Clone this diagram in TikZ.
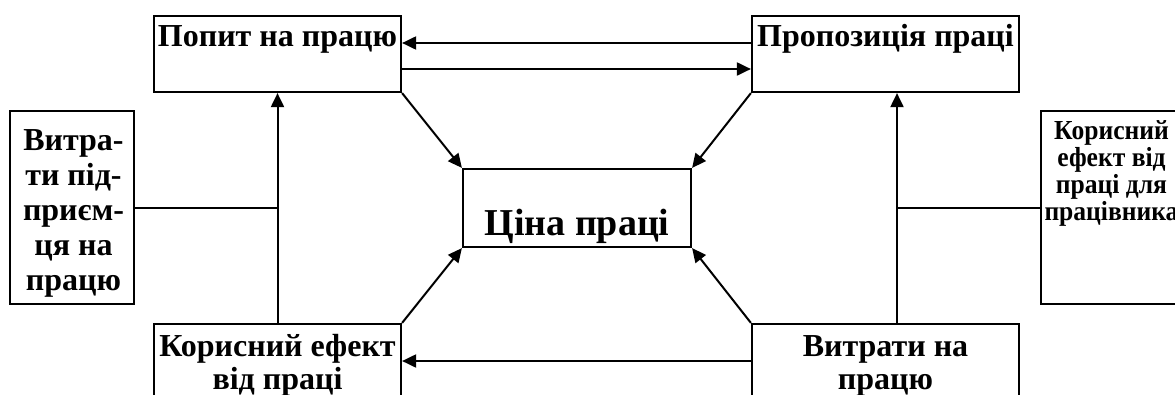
\documentclass[tikz,border=0pt]{standalone}
\usepackage{fontspec}
\setmainfont{Liberation Serif}
\newfontfamily\narrowserif[FakeStretch=0.93]{Liberation Serif}
\usetikzlibrary{arrows.meta}

% centred lines at a fixed pitch; the box baseline is the first line's
\newcommand\stacklines[2]{\vtop{\baselineskip=#1\lineskiplimit=-100pt
  \halign{\hfil##\hfil\cr #2\crcr}}}

\tikzset{
  box/.style={draw, line width=2.2pt, rectangle, inner sep=0pt},
  lbl/.style={inner sep=0pt, anchor=base,
    font=\fontsize{32}{34}\selectfont\bfseries},
  biglbl/.style={inner sep=0pt, anchor=base,
    font=\fontsize{38}{40}\selectfont\bfseries},
  narrowlbl/.style={inner sep=0pt, anchor=base,
    font=\narrowserif\fontsize{27.5}{27}\selectfont\bfseries},
  arr/.style={line width=2pt, -{Triangle[length=14pt,width=13pt]}},
  link/.style={line width=2pt}
}

\begin{document}
\begin{tikzpicture}[x=1pt, y=-1pt]
\useasboundingbox (0,0) rectangle (1175,394);
\clip (0,0) rectangle (1175,394);

% boxes
\node[box, minimum width=247pt, minimum height=76pt] (pd) at (277.5,54) {};
\node[box, minimum width=267pt, minimum height=76pt] (pr) at (885.5,54) {};
\node[box, minimum width=228pt, minimum height=78pt] (ci) at (577,208) {};
\node[box, minimum width=124pt, minimum height=193pt] (vl) at (72,207.5) {};
\node[box, minimum width=141pt, minimum height=193pt] (kr) at (1111.5,207.5) {};
\node[box, minimum width=247pt, minimum height=86pt] (kb) at (277.5,367) {};
\node[box, minimum width=267pt, minimum height=86pt] (vb) at (885.5,367) {};

% texts
\node[lbl] (tpd) at ([yshift=-32pt]pd.north) {Попит на працю};
\node[lbl] (tpr) at ([yshift=-32pt]pr.north) {Пропозиція праці};
\node[biglbl] (tci) at ([yshift=-68pt]ci.north) {Ціна праці};
\node[lbl] (tvl) at ([yshift=-41pt,xshift=1.5pt]vl.north)
  {\stacklines{35pt}{Витра-\cr ти під-\cr приєм-\cr ця на\cr працю}};
\node[narrowlbl] (tkr) at ([yshift=-30pt]kr.north)
  {\stacklines{27pt}{Корисний\cr ефект від\cr праці для\cr працівника}};
\node[lbl] (tkb) at ([yshift=-34pt]kb.north)
  {\stacklines{33pt}{Корисний ефект\cr від праці}};
\node[lbl] (tvb) at ([yshift=-34pt]vb.north)
  {\stacklines{33pt}{Витрати на\cr працю}};

% horizontal links between the top boxes
\draw[arr] ([yshift=11pt]pr.west) -- ([yshift=11pt]pd.east);
\draw[arr] ([yshift=-15pt]pd.east) -- ([yshift=-15pt]pr.west);

% bottom link
\draw[arr] ([yshift=6pt]vb.west) -- ([yshift=6pt]kb.east);

% diagonals into the price box
\draw[arr] (pd.south east) -- (ci.north west);
\draw[arr] (pr.south west) -- (ci.north east);
\draw[arr] (kb.north east) -- (ci.south west);
\draw[arr] (vb.north west) -- (ci.south east);

% vertical links and side inputs
\draw[arr] (kb.north) -- (pd.south);
\coordinate (jl) at (kb.north |- vl.east);
\draw[link] (vl.east) -- (jl);

\draw[arr] ([xshift=11.5pt]vb.north) -- ([xshift=11.5pt]pr.south);
\coordinate (jr) at ([xshift=11.5pt]vb.north |- kr.west);
\draw[link] (kr.west) -- (jr);
\end{tikzpicture}
\end{document}
